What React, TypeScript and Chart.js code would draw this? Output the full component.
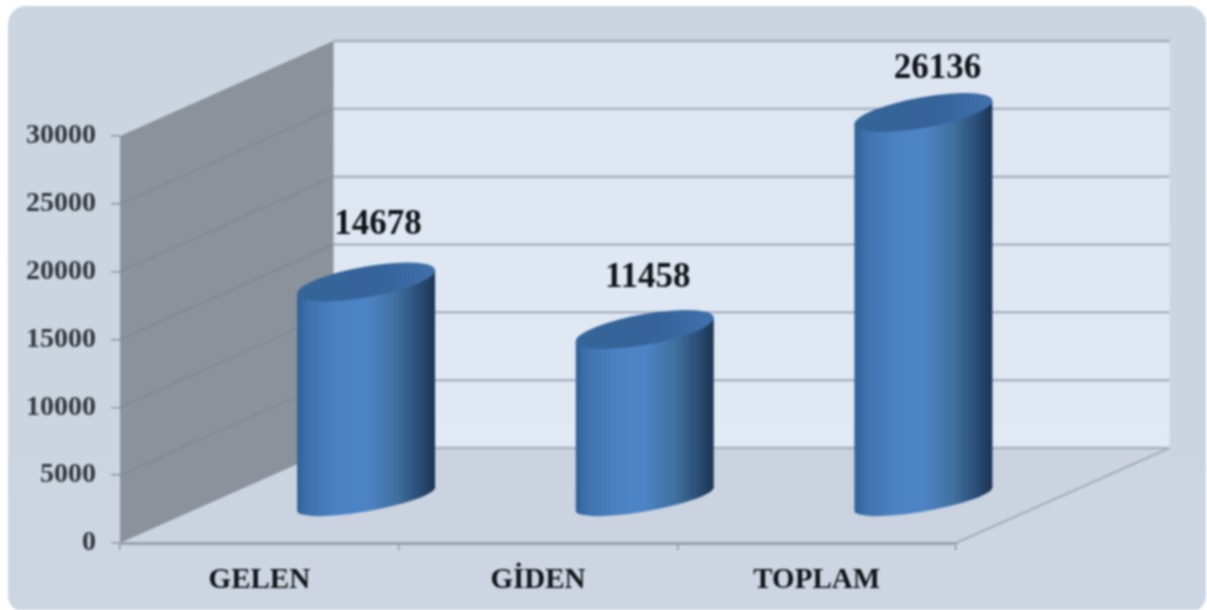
import React, { useEffect, useRef } from "react";
import { Chart, BarController, BarElement, CategoryScale, LinearScale } from "chart.js";

// ---- data ----
const categories = ["GELEN", "GİDEN", "TOPLAM"];
const seriesValues = [14678, 11458, 26136];
const axisMax = 30000;
const axisStep = 5000;

// ---- look ----
const W = 1207, H = 610;
const DEPTH_X = 213.5, DEPTH_Y = -95;
const SERIF = '"Liberation Serif", "Times New Roman", serif';
const SHEAR = 0.17, TOP_B = 15.5, BOTTOM_B = 12.5;
const labelNudge = [[12, -57], [3, -52], [14, -44]];

function roundRect(ctx: CanvasRenderingContext2D, x: number, y: number, w: number, h: number, r: number) {
  ctx.beginPath();
  ctx.roundRect(x, y, w, h, r);
}

class CylinderElement extends BarElement {
  static id = "cylinder3d";
  draw(ctx: CanvasRenderingContext2D) {
    const { x, y, base, width } = (this as any).getProps(["x", "y", "base", "width"], true);
    const a = width / 2;
    const cx = x + DEPTH_X / 2;
    const h = base - y;
    ctx.save();
    ctx.transform(1, -SHEAR, 0, 1, cx, base);
    const g = ctx.createLinearGradient(-a, 0, a, 0);
    g.addColorStop(0, "#2f5f96");
    g.addColorStop(0.08, "#3f72ad");
    g.addColorStop(0.3, "#4c82c4");
    g.addColorStop(0.5, "#4d84c6");
    g.addColorStop(0.72, "#40709f");
    g.addColorStop(0.9, "#284a72");
    g.addColorStop(1, "#1c3451");
    ctx.beginPath();
    ctx.moveTo(-a, -h);
    ctx.lineTo(-a, 0);
    ctx.ellipse(0, 0, a, BOTTOM_B, 0, Math.PI, 0, true);
    ctx.lineTo(a, -h);
    ctx.closePath();
    ctx.fillStyle = g;
    ctx.fill();
    const top = ctx.createLinearGradient(-a, 0, a, 0);
    top.addColorStop(0, "#356597");
    top.addColorStop(0.6, "#35639b");
    top.addColorStop(1, "#3f71ab");
    ctx.beginPath();
    ctx.ellipse(0, -h, a, TOP_B, 0, 0, Math.PI * 2);
    ctx.fillStyle = top;
    ctx.fill();
    ctx.restore();
  }
}

class CylinderController extends BarController {
  static id = "cylinder";
  static defaults = { ...(BarController as any).defaults, dataElementType: "cylinder3d" };
}

Chart.register(CategoryScale, LinearScale, BarController, BarElement, CylinderElement as any, CylinderController as any);

const scenePlugin = {
  id: "scene",
  beforeDraw(chart: any) {
    const { ctx, chartArea: ca, scales } = chart;
    const y = scales.y;
    const { left: l, right: r, top: t, bottom: b } = ca;
    ctx.save();
    // panel
    const p = ctx.createLinearGradient(0, 6, 0, H);
    p.addColorStop(0, "#cbd5df");
    p.addColorStop(1, "#ccd5e1");
    roundRect(ctx, 8, 6, 1198, 607, 18);
    ctx.fillStyle = p;
    ctx.fill();
    // back wall
    const bw = ctx.createLinearGradient(0, t + DEPTH_Y, 0, b + DEPTH_Y);
    bw.addColorStop(0, "#dce5f0");
    bw.addColorStop(1, "#e0e9f4");
    ctx.fillStyle = bw;
    ctx.fillRect(l + DEPTH_X, t + DEPTH_Y, r - l, b - t);
    // floor
    ctx.beginPath();
    ctx.moveTo(l, b);
    ctx.lineTo(r, b);
    ctx.lineTo(r + DEPTH_X, b + DEPTH_Y);
    ctx.lineTo(l + DEPTH_X, b + DEPTH_Y);
    ctx.closePath();
    ctx.fillStyle = "#cad3df";
    ctx.fill();
    ctx.strokeStyle = "#a5aebb";
    ctx.lineWidth = 2;
    ctx.beginPath();
    ctx.moveTo(r, b);
    ctx.lineTo(r + DEPTH_X, b + DEPTH_Y);
    ctx.stroke();
    // side wall
    ctx.beginPath();
    ctx.moveTo(l, t);
    ctx.lineTo(l + DEPTH_X, t + DEPTH_Y);
    ctx.lineTo(l + DEPTH_X, b + DEPTH_Y);
    ctx.lineTo(l, b);
    ctx.closePath();
    ctx.fillStyle = "#8b929b";
    ctx.fill();
    // grid
    y.ticks.forEach((tk: any) => {
      const py = y.getPixelForValue(tk.value);
      ctx.strokeStyle = "#7f868f";
      ctx.lineWidth = 1.5;
      if (tk.value > 0 && tk.value < axisMax) {
        ctx.beginPath();
        ctx.moveTo(l, py);
        ctx.lineTo(l + DEPTH_X, py + DEPTH_Y);
        ctx.stroke();
      }
      ctx.strokeStyle = "#a9b3c1";
      ctx.lineWidth = tk.value === axisMax ? 3 : 2.5;
      ctx.beginPath();
      ctx.moveTo(l + DEPTH_X, py + DEPTH_Y);
      ctx.lineTo(r + DEPTH_X, py + DEPTH_Y);
      ctx.stroke();
    });
    ctx.restore();
  },
  afterDatasetsDraw(chart: any) {
    const { ctx } = chart;
    const meta = chart.getDatasetMeta(0);
    ctx.save();
    ctx.font = `bold 35px ${SERIF}`;
    ctx.fillStyle = "#101317";
    ctx.textAlign = "center";
    ctx.textBaseline = "middle";
    meta.data.forEach((el: any, i: number) => {
      const cx = el.x + DEPTH_X / 2 + labelNudge[i][0];
      const cy = el.y + labelNudge[i][1];
      ctx.fillText(String(seriesValues[i]), cx, cy);
    });
    ctx.restore();
  },
};

export default function App() {
  const ref = useRef<HTMLCanvasElement>(null);
  useEffect(() => {
    const chart = new Chart(ref.current as HTMLCanvasElement, {
      type: "cylinder" as any,
      data: {
        labels: categories,
        datasets: [
          {
            label: "Adet",
            data: seriesValues,
            yAxisID: "yBars",
            barPercentage: 0.495,
            categoryPercentage: 1,
            clip: false as any,
            backgroundColor: "#4c82c4",
          },
        ],
      },
      options: {
        animation: false,
        responsive: false,
        devicePixelRatio: 1,
        layout: { padding: { left: 0, right: 251, top: 136, bottom: 0 } },
        plugins: { legend: { display: false }, tooltip: { enabled: false } } as any,
        scales: {
          x: {
            offset: true,
            grid: { drawOnChartArea: false, drawTicks: true, tickLength: 7, color: "#8d95a0", offset: true, lineWidth: 1.5 },
            border: { display: true, color: "#98a1ad", width: 3 },
            ticks: {
              font: { family: SERIF, weight: "bold", size: 29 },
              color: "#101317",
              padding: 13,
              maxRotation: 0,
            },
            afterFit(s: any) { s.height = H - 543; },
          },
          y: {
            position: "left",
            min: 0,
            max: axisMax,
            grid: { drawOnChartArea: false, drawTicks: true, tickLength: 9, color: "#8d95a0", lineWidth: 1.5 },
            border: { display: false },
            ticks: {
              stepSize: axisStep,
              font: { family: SERIF, weight: "bold", size: 28 },
              color: "#33373d",
              padding: 15,
              callback: (v: any) => String(v),
            },
            afterFit(s: any) { s.width = 120; },
          },
          yBars: {
            display: false,
            position: "left",
            min: -2975,
            max: 24547,
          },
        },
      } as any,
      plugins: [scenePlugin as any],
    });
    return () => chart.destroy();
  }, []);
  return (
    <canvas
      ref={ref}
      width={W}
      height={H}
      style={{ position: "fixed", left: 0, top: 0, width: W, height: H, filter: "blur(0.8px)" }}
    />
  );
}
